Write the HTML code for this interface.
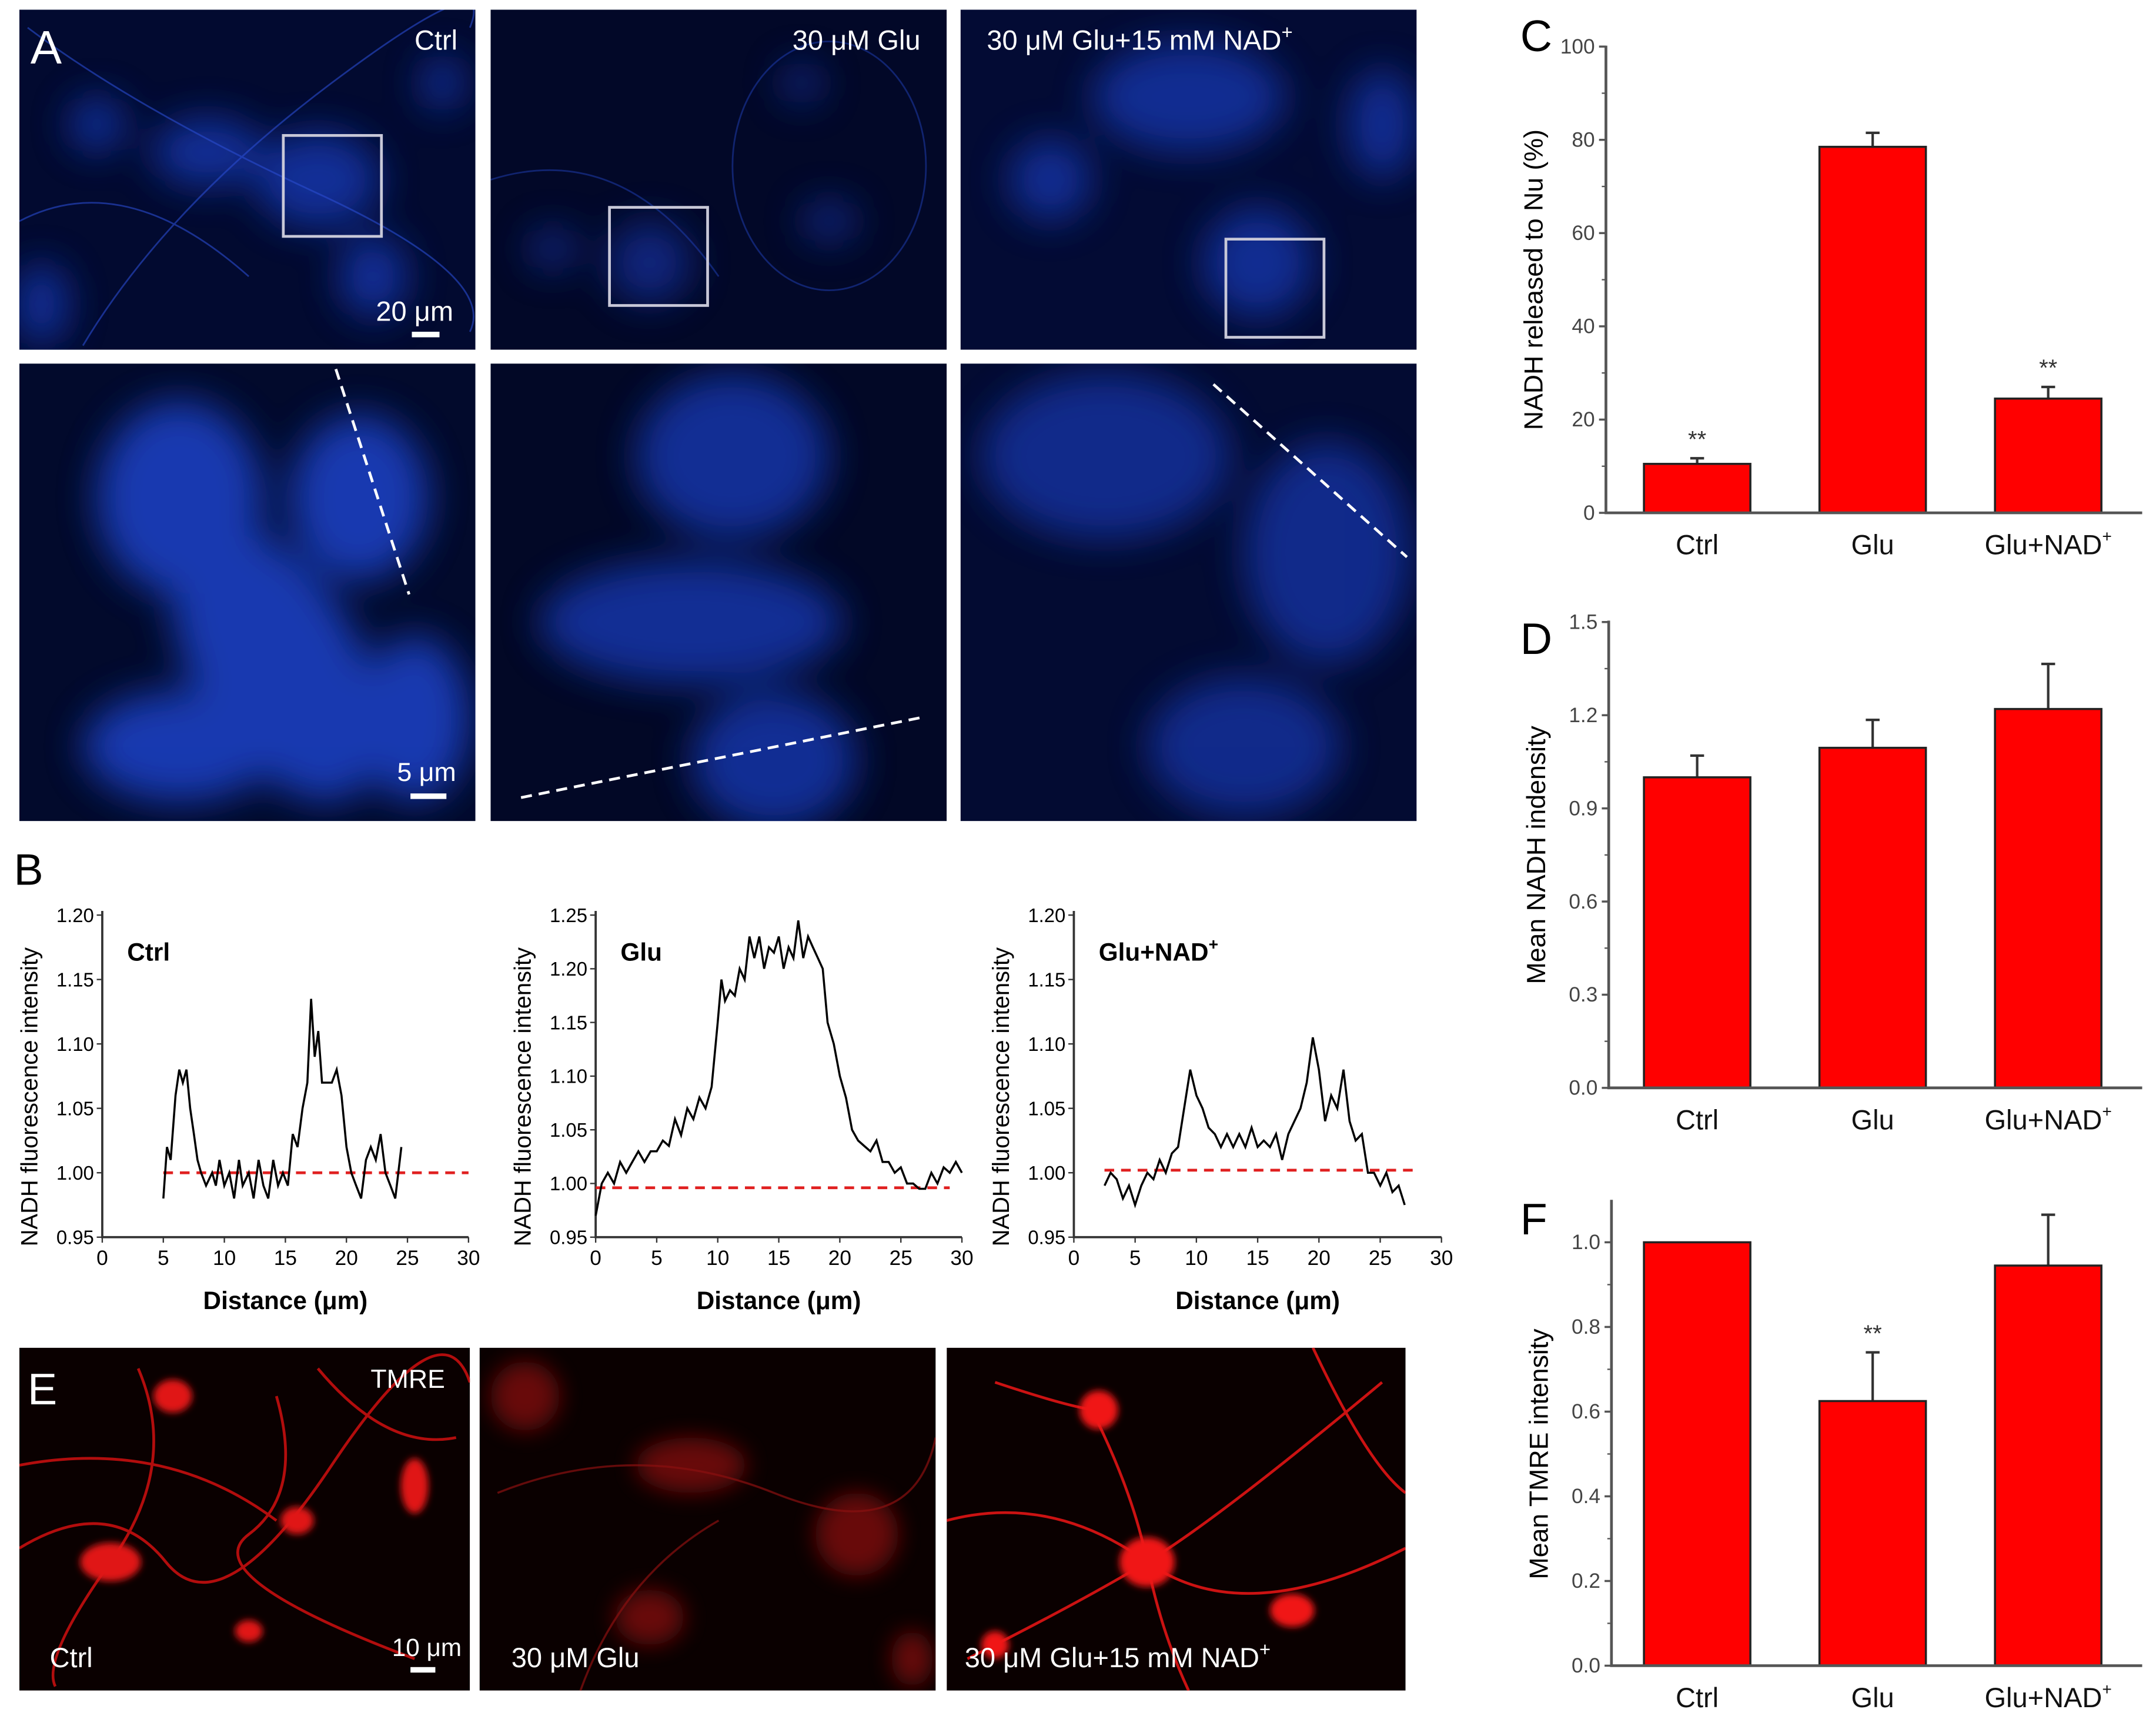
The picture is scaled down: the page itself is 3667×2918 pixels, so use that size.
<!DOCTYPE html>
<html><head><meta charset="utf-8"><style>
html,body{margin:0;padding:0;background:#fff;}
svg{display:block;}
text{font-family:"Liberation Sans",sans-serif;}
</style></head><body>
<svg id="fig" width="3667" height="2918" viewBox="0 0 1560 1241.4" preserveAspectRatio="none" xmlns="http://www.w3.org/2000/svg">
<defs>
<filter id="b8" x="-50%" y="-50%" width="200%" height="200%"><feGaussianBlur stdDeviation="8"/></filter>
<filter id="b14" x="-50%" y="-50%" width="200%" height="200%"><feGaussianBlur stdDeviation="14"/></filter>
<filter id="b3" x="-50%" y="-50%" width="200%" height="200%"><feGaussianBlur stdDeviation="2.5"/></filter>
<clipPath id="c1"><rect x="14" y="7" width="330" height="246"/></clipPath>
<clipPath id="c2"><rect x="355" y="7" width="330" height="246"/></clipPath>
<clipPath id="c3"><rect x="695" y="7" width="330" height="246"/></clipPath>
<clipPath id="c4"><rect x="14" y="263" width="330" height="331"/></clipPath>
<clipPath id="c5"><rect x="355" y="263" width="330" height="331"/></clipPath>
<clipPath id="c6"><rect x="695" y="263" width="330" height="331"/></clipPath>
<clipPath id="e1"><rect x="14" y="975" width="326" height="248"/></clipPath>
<clipPath id="e2"><rect x="347" y="975" width="330" height="248"/></clipPath>
<clipPath id="e3"><rect x="685" y="975" width="332" height="248"/></clipPath>
</defs>

<!-- Panel A -->
<g>
<g clip-path="url(#c1)">
<rect x="14" y="7" width="330" height="246" fill="#020a30"/>
<g filter="url(#b14)" fill="#1538b0" opacity="0.8">
<ellipse cx="230" cy="130" rx="45" ry="35"/><ellipse cx="150" cy="110" rx="40" ry="25"/><ellipse cx="70" cy="90" rx="20" ry="20"/><ellipse cx="320" cy="60" rx="15" ry="20"/><ellipse cx="30" cy="220" rx="20" ry="30"/><ellipse cx="270" cy="200" rx="25" ry="30"/></g>
<g stroke="#2a4cd0" stroke-width="1.2" fill="none" opacity="0.6"><path d="M20 20 Q100 80 230 140 T340 240"/><path d="M60 250 Q120 150 240 60 T340 20"/><path d="M14 160 Q90 120 180 200"/></g>
<rect x="205" y="98" width="71" height="73" fill="none" stroke="#c8c8d8" stroke-width="2"/>
</g>
<g clip-path="url(#c2)">
<rect x="355" y="7" width="330" height="246" fill="#020828"/>
<g filter="url(#b14)" fill="#1232a0" opacity="0.7"><ellipse cx="470" cy="190" rx="30" ry="30"/><ellipse cx="600" cy="160" rx="20" ry="15"/><ellipse cx="400" cy="180" rx="18" ry="15"/><ellipse cx="580" cy="60" rx="15" ry="15"/></g>
<g stroke="#2040b8" stroke-width="1.2" fill="none" opacity="0.5"><ellipse cx="600" cy="120" rx="70" ry="90"/><path d="M355 130 Q450 100 520 200"/></g>
<rect x="441" y="150" width="71" height="71" fill="none" stroke="#c8c8d8" stroke-width="2"/>
</g>
<g clip-path="url(#c3)">
<rect x="695" y="7" width="330" height="246" fill="#030b34"/>
<g filter="url(#b14)" fill="#1638b0" opacity="0.75"><ellipse cx="860" cy="70" rx="70" ry="40"/><ellipse cx="910" cy="190" rx="40" ry="40"/><ellipse cx="760" cy="130" rx="30" ry="30"/><ellipse cx="1000" cy="90" rx="25" ry="40"/></g>
<rect x="887" y="173" width="71" height="71" fill="none" stroke="#c8c8d8" stroke-width="2"/>
</g>
<g clip-path="url(#c4)">
<rect x="14" y="263" width="330" height="331" fill="#020a2c"/>
<g filter="url(#b14)" fill="#1a42c8" opacity="0.85"><ellipse cx="200" cy="480" rx="60" ry="110" transform="rotate(-30 200 480)"/><ellipse cx="130" cy="360" rx="60" ry="70"/><ellipse cx="260" cy="360" rx="50" ry="60"/><ellipse cx="130" cy="540" rx="70" ry="40"/><ellipse cx="300" cy="520" rx="40" ry="60"/></g>
<line x1="243" y1="267" x2="296" y2="430" stroke="#fff" stroke-width="2" stroke-dasharray="8,5"/>
</g>
<g clip-path="url(#c5)">
<rect x="355" y="263" width="330" height="331" fill="#020826"/>
<g filter="url(#b14)" fill="#1638b0" opacity="0.8"><ellipse cx="530" cy="330" rx="70" ry="60"/><ellipse cx="500" cy="450" rx="110" ry="45"/><ellipse cx="560" cy="550" rx="60" ry="50"/></g>
<line x1="377" y1="577" x2="667" y2="519" stroke="#fff" stroke-width="2" stroke-dasharray="8,5"/>
</g>
<g clip-path="url(#c6)">
<rect x="695" y="263" width="330" height="331" fill="#030b32"/>
<g filter="url(#b14)" fill="#1534a8" opacity="0.75"><ellipse cx="800" cy="330" rx="90" ry="60"/><ellipse cx="960" cy="400" rx="60" ry="80"/><ellipse cx="900" cy="540" rx="70" ry="50"/></g>
<line x1="878" y1="278" x2="1018" y2="403" stroke="#fff" stroke-width="2" stroke-dasharray="8,5"/>
</g>
<text x="22" y="46" font-size="34" fill="#fff">A</text>
<text x="331" y="36" font-size="20" fill="#fff" text-anchor="end">Ctrl</text>
<text x="666" y="36" font-size="20" fill="#fff" text-anchor="end">30 μM Glu</text>
<text x="714" y="36" font-size="20" fill="#fff">30 μM Glu+15 mM NAD<tspan dy="-8" font-size="14">+</tspan></text>
<text x="328" y="232" font-size="20" fill="#fff" text-anchor="end">20 μm</text>
<rect x="298" y="240" width="20" height="4" fill="#fff"/>
<text x="330" y="565" font-size="19" fill="#fff" text-anchor="end">5 μm</text>
<rect x="297" y="574" width="26" height="4" fill="#fff"/>
</g>

<!-- Panel B -->
<g id="panelB">
<text x="10" y="640" font-size="32" fill="#000">B</text>
</g>

<!-- Panel E -->
<g>
<g clip-path="url(#e1)">
<rect x="14" y="975" width="326" height="248" fill="#0a0000"/>
<g stroke="#d01010" stroke-width="2" fill="none" opacity="0.85"><path d="M14 1120 Q80 1080 120 1130 T240 1060 T340 1000"/><path d="M100 990 Q130 1060 80 1130 T40 1220"/><path d="M200 1010 Q220 1080 180 1110 T300 1200"/><path d="M14 1060 Q120 1040 200 1100"/><path d="M230 990 Q280 1050 330 1040"/></g>
<g filter="url(#b3)" fill="#e01818"><ellipse cx="80" cy="1130" rx="22" ry="14"/><ellipse cx="125" cy="1010" rx="14" ry="12"/><ellipse cx="300" cy="1075" rx="10" ry="20"/><ellipse cx="215" cy="1100" rx="12" ry="10"/><ellipse cx="180" cy="1180" rx="10" ry="8"/></g>
</g>
<g clip-path="url(#e2)">
<rect x="347" y="975" width="330" height="248" fill="#0a0000"/>
<g filter="url(#b8)" fill="#801010" opacity="0.8"><ellipse cx="380" cy="1010" rx="25" ry="25"/><ellipse cx="500" cy="1060" rx="40" ry="20"/><ellipse cx="620" cy="1110" rx="30" ry="30"/><ellipse cx="470" cy="1170" rx="25" ry="20"/><ellipse cx="660" cy="1200" rx="15" ry="20"/></g>
<g stroke="#8a1010" stroke-width="1.5" fill="none" opacity="0.7"><path d="M360 1080 Q460 1040 560 1080 T677 1040"/><path d="M420 1223 Q450 1140 520 1100"/></g>
</g>
<g clip-path="url(#e3)">
<rect x="685" y="975" width="332" height="248" fill="#0a0000"/>
<g stroke="#e01414" stroke-width="2" fill="none" opacity="0.9"><path d="M685 1100 Q760 1080 830 1130 T1017 1120"/><path d="M790 1020 Q820 1080 830 1130 T860 1223"/><path d="M700 1200 Q780 1160 830 1130 T1000 1000"/><path d="M950 975 Q990 1060 1017 1080"/><path d="M720 1000 Q780 1020 795 1020"/></g>
<g filter="url(#b3)" fill="#f01818"><ellipse cx="830" cy="1130" rx="20" ry="18"/><ellipse cx="795" cy="1020" rx="14" ry="14"/><ellipse cx="935" cy="1165" rx="16" ry="12"/><ellipse cx="720" cy="1190" rx="10" ry="10"/></g>
</g>
<text x="20" y="1016" font-size="32" fill="#fff">E</text>
<text x="322" y="1004" font-size="19" fill="#fff" text-anchor="end">TMRE</text>
<text x="36" y="1206" font-size="20" fill="#fff">Ctrl</text>
<text x="334" y="1198" font-size="18" fill="#fff" text-anchor="end">10 μm</text>
<rect x="297" y="1206" width="18" height="4" fill="#fff"/>
<text x="370" y="1206" font-size="20" fill="#fff">30 μM Glu</text>
<text x="698" y="1206" font-size="20" fill="#fff">30 μM Glu+15 mM NAD<tspan dy="-8" font-size="14">+</tspan></text>
</g>

<g id="panelC"><text x="1100" y="37" font-size="32">C</text></g>
<g id="panelD"><text x="1100" y="473" font-size="32">D</text></g>
<g id="panelF"><text x="1100" y="893" font-size="32">F</text></g>
</svg>
<script>
const NS="http://www.w3.org/2000/svg";
// ---- Panel B data ----
const ctrlX=[5,5.3,5.6,6,6.3,6.6,6.9,7.2,7.5,7.8,8.1,8.5,9,9.3,9.6,10,10.4,10.8,11.2,11.5,12,12.4,12.8,13.2,13.6,14,14.4,14.8,15.2,15.6,16,16.4,16.8,17.1,17.4,17.7,18,18.4,18.8,19.2,19.6,20,20.4,20.8,21.2,21.6,22,22.4,22.8,23.2,23.6,24,24.5];
const ctrlY=[0.98,1.02,1.01,1.06,1.08,1.07,1.08,1.05,1.03,1.01,1.0,0.99,1.0,0.99,1.01,0.99,1.0,0.98,1.01,0.99,1.0,0.98,1.01,0.99,0.98,1.01,0.99,1.0,0.99,1.03,1.02,1.05,1.07,1.135,1.09,1.11,1.07,1.07,1.07,1.08,1.06,1.02,1.0,0.99,0.98,1.01,1.02,1.01,1.03,1.0,0.99,0.98,1.02];
const gluX=[0,0.5,1,1.5,2,2.5,3,3.5,4,4.5,5,5.5,6,6.5,7,7.5,8,8.5,9,9.5,10,10.3,10.6,11,11.4,11.8,12.2,12.6,13,13.4,13.8,14.2,14.6,15,15.4,15.8,16.2,16.6,17,17.4,17.8,18.2,18.6,19,19.5,20,20.5,21,21.5,22,22.5,23,23.5,24,24.5,25,25.5,26,26.5,27,27.5,28,28.5,29,29.5,30];
const gluY=[0.97,1.0,1.01,1.0,1.02,1.01,1.02,1.03,1.02,1.03,1.03,1.04,1.035,1.06,1.045,1.07,1.06,1.08,1.07,1.09,1.15,1.19,1.17,1.18,1.175,1.2,1.19,1.23,1.21,1.23,1.2,1.22,1.215,1.23,1.2,1.22,1.21,1.245,1.21,1.23,1.22,1.21,1.2,1.15,1.13,1.1,1.08,1.05,1.04,1.035,1.03,1.04,1.02,1.02,1.01,1.015,1.0,1.0,0.995,0.995,1.01,1.0,1.015,1.01,1.02,1.01];
const nadX=[2.5,3,3.5,4,4.5,5,5.5,6,6.5,7,7.5,8,8.5,9,9.5,10,10.5,11,11.5,12,12.5,13,13.5,14,14.5,15,15.5,16,16.5,17,17.5,18,18.5,19,19.5,20,20.5,21,21.5,22,22.5,23,23.5,24,24.5,25,25.5,26,26.5,27];
const nadY=[0.99,1.0,0.995,0.98,0.99,0.975,0.99,1.0,0.995,1.01,1.0,1.015,1.02,1.05,1.08,1.06,1.05,1.035,1.03,1.02,1.03,1.02,1.03,1.02,1.035,1.02,1.025,1.02,1.03,1.01,1.03,1.04,1.05,1.07,1.105,1.08,1.04,1.06,1.05,1.08,1.04,1.025,1.03,1.0,1.0,0.99,1.0,0.985,0.99,0.975];
const bTicksX=[0,5,10,15,20,25,30];
const ctrlTicksY=[0.95,1.00,1.05,1.10,1.15,1.20];
const gluTicksY=[0.95,1.00,1.05,1.10,1.15,1.20,1.25];
// ---- Panel C/D/F data ----
const cats=["Ctrl","Glu","Glu+NAD"];
const cVals=[10.5,78.5,24.5], cErr=[1.2,3,2.5], cTicks=[0,20,40,60,80,100], cStars=[true,false,true];
const dVals=[1.0,1.095,1.22], dErr=[0.07,0.09,0.145], dTicks=[0,0.3,0.6,0.9,1.2,1.5];
const fVals=[1.0,0.625,0.945], fErr=[0,0.115,0.12], fTicks=[0,0.2,0.4,0.6,0.8,1.0], fStars=[false,true,false];

const svg=document.getElementById('fig');
function mk(tag,attrs,parent){const e=document.createElementNS(NS,tag);for(const k in attrs)e.setAttribute(k,attrs[k]);(parent||svg).appendChild(e);return e;}

function profile(g,opt,xs,ys,ticksY,label,dash){
  const sx=v=>opt.x0+(v-0)/30*(opt.x1-opt.x0);
  const sy=v=>opt.y0-(v-opt.ymin)/(opt.ymax-opt.ymin)*(opt.y0-opt.y1);
  const ax=mk('path',{d:`M${opt.x0} ${opt.y1-3}V${opt.y0}H${opt.x1}`,stroke:'#333',fill:'none','stroke-width':1.6},g);
  
  bTicksX.forEach(t=>{mk('line',{x1:sx(t),x2:sx(t),y1:opt.y0,y2:opt.y0+4,stroke:'#333'},g);
    const tx=mk('text',{x:sx(t),y:opt.y0+20,'font-size':15,'text-anchor':'middle'},g);tx.textContent=t;
    });
  ticksY.forEach(t=>{mk('line',{x1:opt.x0-4,x2:opt.x0,y1:sy(t),y2:sy(t),stroke:'#333'},g);
    const tx=mk('text',{x:opt.x0-6,y:sy(t)+5,'font-size':14,'text-anchor':'end'},g);tx.textContent=t.toFixed(2);
    });
  const dl=mk('line',{x1:sx(dash[0]),x2:sx(dash[1]),y1:sy(dash[2]),y2:sy(dash[2]),stroke:'#e02020','stroke-width':2,'stroke-dasharray':'7,5'},g);
  
  let d='';xs.forEach((v,i)=>{d+=(i?'L':'M')+sx(v).toFixed(1)+' '+sy(ys[i]).toFixed(1);});
  const ln=mk('path',{d:d,stroke:'#000',fill:'none','stroke-width':1.5},g);
  
  const lt=mk('text',{x:opt.x0+18,y:opt.y1+33,'font-size':18,'font-weight':'bold'},g);lt.innerHTML=label;
  
  const yl=mk('text',{x:0,y:0,'font-size':17,'text-anchor':'middle',transform:`translate(${opt.x0-47},${(opt.y0+opt.y1)/2+15}) rotate(-90)`},g);
  yl.textContent='NADH fluorescence intensity';
  const xl=mk('text',{x:(opt.x0+opt.x1)/2,y:opt.y0+52,'font-size':18,'text-anchor':'middle','font-weight':'bold'},g);
  xl.textContent='Distance (μm)';
}
const gB=document.getElementById('panelB');
profile(gB,{x0:74,x1:339,y0:895,y1:662,ymin:0.95,ymax:1.20},ctrlX,ctrlY,ctrlTicksY,'Ctrl',[5,30,1.0]);
profile(gB,{x0:431,x1:696,y0:895,y1:662,ymin:0.95,ymax:1.25},gluX,gluY,gluTicksY,'Glu',[0,29,0.996]);
profile(gB,{x0:777,x1:1043,y0:895,y1:662,ymin:0.95,ymax:1.20},nadX,nadY,ctrlTicksY,'Glu+NAD<tspan dy="-8" font-size="12">+</tspan>',[2.5,28,1.002]);

function barChart(g,opt,vals,errs,ticks,stars,ylabel,dec){
  const sy=v=>opt.y0-(v-0)/(opt.ymax-0)*(opt.y0-opt.ytop);
  const bw=77, centers=[1228,1355,1482];
  vals.forEach((v,i)=>{
    if(errs[i]>0){const e=mk('path',{d:`M${centers[i]} ${sy(v)}V${sy(v+errs[i])}M${centers[i]-5} ${sy(v+errs[i])}H${centers[i]+5}`,stroke:'#333','stroke-width':1.8,fill:'none'},g);
      }
    const r=mk('rect',{x:centers[i]-bw/2,y:sy(v),width:bw,height:sy(0)-sy(v),fill:'#ff0000',stroke:'#222','stroke-width':1.5},g);
    
    if(stars&&stars[i]){const s=mk('text',{x:centers[i],y:sy(v+errs[i])-8,'font-size':17,'text-anchor':'middle',fill:'#333'},g);s.textContent='**';
      }
    const cl=mk('text',{x:centers[i],y:opt.y0+30,'font-size':20,'text-anchor':'middle',fill:'#111'},g);
    cl.innerHTML=cats[i]==='Glu+NAD'?'Glu+NAD<tspan dy="-9" font-size="12">+</tspan>':cats[i];
    
  });
  const ax=mk('path',{d:`M${opt.x0} ${opt.axTop}V${opt.y0}H1550`,stroke:'#555',fill:'none','stroke-width':2},g);
  
  ticks.forEach((t,i)=>{mk('line',{x1:opt.x0-5,x2:opt.x0,y1:sy(t),y2:sy(t),stroke:'#555','stroke-width':1.5},g);
    if(i<ticks.length-1){const m=(t+ticks[i+1])/2;mk('line',{x1:opt.x0-3,x2:opt.x0,y1:sy(m),y2:sy(m),stroke:'#555'},g);}
    const tx=mk('text',{x:opt.x0-8,y:sy(t)+5,'font-size':15,'text-anchor':'end',fill:'#444'},g);tx.textContent=t.toFixed(dec);
    });
  const yl=mk('text',{x:0,y:0,'font-size':19,'text-anchor':'middle',transform:`translate(${opt.x0-46},${(opt.y0+opt.ytop)/2}) rotate(-90)`},g);
  yl.textContent=ylabel;
}
barChart(document.getElementById('panelC'),{x0:1162,y0:371,ytop:33.7,ymax:100,axTop:33},cVals,cErr,cTicks,cStars,'NADH released to Nu (%)',0);
barChart(document.getElementById('panelD'),{x0:1164,y0:787,ytop:450,ymax:1.5,axTop:449},dVals,dErr,dTicks,null,'Mean NADH indensity',1);
barChart(document.getElementById('panelF'),{x0:1166,y0:1205,ytop:898.7,ymax:1.0,axTop:868},fVals,fErr,fTicks,fStars,'Mean TMRE intensity',1);
</script>
</body></html>
